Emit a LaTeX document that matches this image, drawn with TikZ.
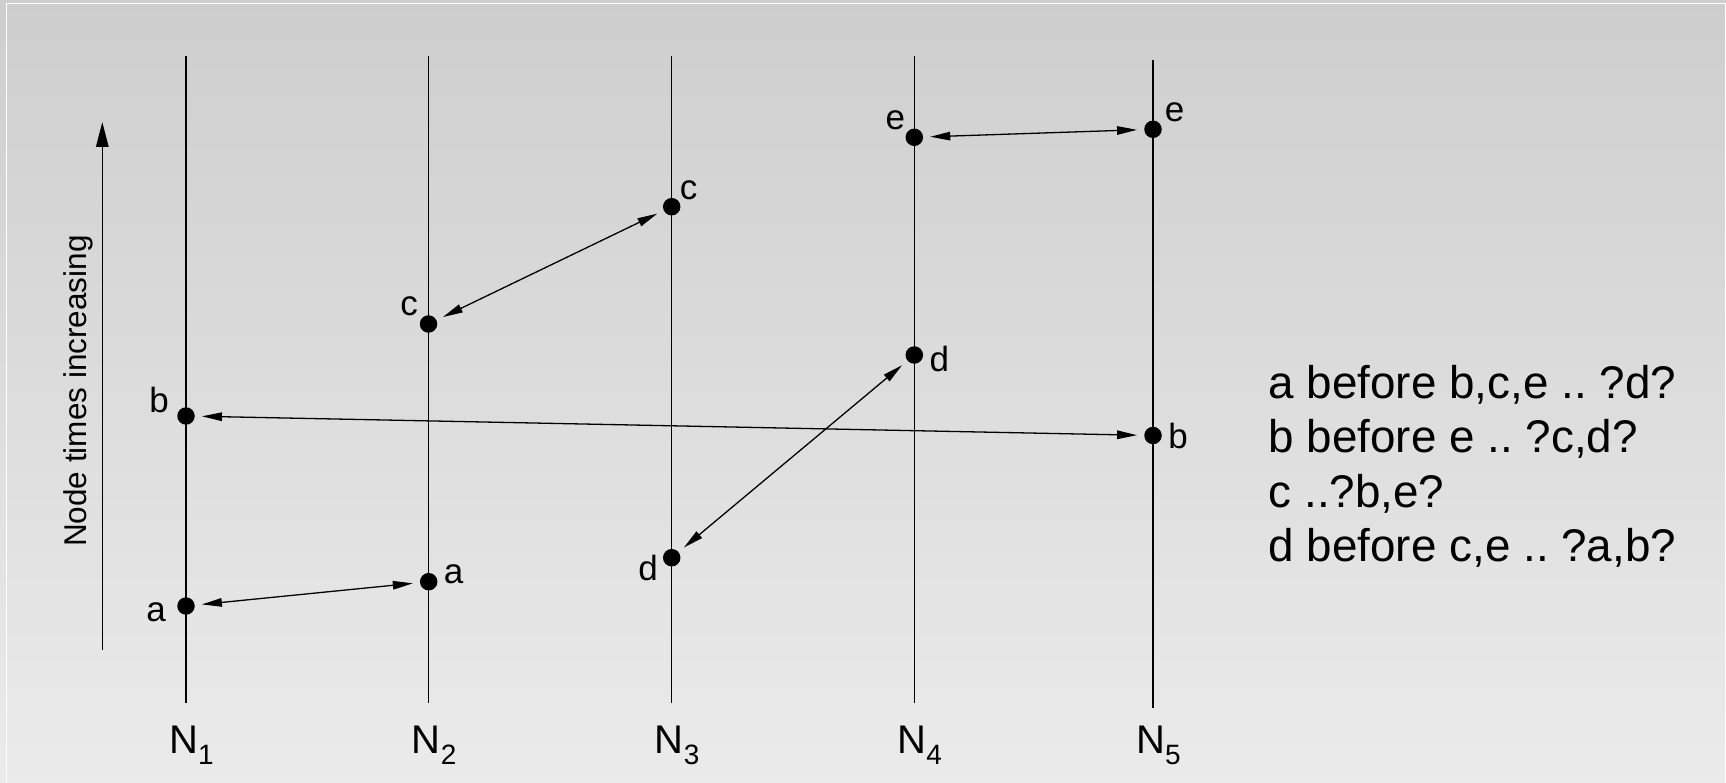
\documentclass[tikz,border=0pt]{standalone}
\usepackage{fontspec}
\setmainfont{Liberation Sans}
\usetikzlibrary{arrows.meta,positioning}
\frenchspacing

\definecolor{bgtop}{RGB}{206,206,206}
\definecolor{bgbot}{RGB}{235,235,235}

\tikzset{
  event/.style={circle,fill=black,inner sep=0pt,minimum size=17.5pt},
  evlabel/.style={font=\fontsize{35}{40}\selectfont,inner sep=0pt},
  msg/.style={{Triangle[length=20pt,width=8.5pt]}-{Triangle[length=20pt,width=8.5pt]},
    line width=1.3pt,shorten <=7pt,shorten >=7pt},
  timeline/.style={line width=1.3pt},
}

\begin{document}
\begin{tikzpicture}[x=1pt,y=-1pt]
  \useasboundingbox (0,0) rectangle (1726,783);
  \shade[top color=bgtop,bottom color=bgbot] (0,0) rectangle (1726,783);
  \draw[white,line width=1.4pt] (6.5,783) -- (6.5,3.7) -- (1725.3,3.7) -- (1725.3,783);

  % time axis
  \coordinate (axbot) at (102.3,649.5);
  \coordinate (axtop) at (102.3,122);
  \draw[line width=1.5pt,-{Triangle[length=25pt,width=12.5pt]}] (axbot) -- (axtop);
  \node[rotate=90,font=\fontsize{31.5}{36}\selectfont] (axlabel) at (78,391) {Node times increasing};

  % node time lines
  \foreach \i/\x/\t/\b in {1/186/56/703,2/428.7/56/703,3/671.7/56/703,4/914.3/56/703,5/1153/60.5/707.7} {
    \coordinate (top\i) at (\x,\t);
    \coordinate (bot\i) at (\x,\b);
    \draw[timeline] (top\i) -- (bot\i);
    \node[anchor=base west,inner sep=0pt,font=\fontsize{40}{44}\selectfont] (N\i) at (\x-17,753)
      {N\raisebox{-11pt}{\fontsize{28}{30}\selectfont\i}};
  }

  % events
  \node[event] (a1) at (186,606) {};
  \node[event] (a2) at (428.7,581.7) {};
  \node[event] (b1) at (186,416) {};
  \node[event] (b5) at (1153,435.5) {};
  \node[event] (c2) at (428.5,324) {};
  \node[event] (c3) at (671.7,206.7) {};
  \node[event] (d3) at (671.7,557.7) {};
  \node[event] (d4) at (914.3,355) {};
  \node[event] (e4) at (914.3,137.3) {};
  \node[event] (e5) at (1153,129.3) {};

  \node[evlabel] (a1l) at ([shift={(-30,6.5)}]a1) {a};
  \node[evlabel] (a2l) at ([shift={(25,-7)}]a2) {a};
  \node[evlabel] (b1l) at ([shift={(-27,-16)}]b1) {b};
  \node[evlabel] (b5l) at ([shift={(25,0)}]b5) {b};
  \node[evlabel] (c2l) at ([shift={(-19.5,-17.5)}]c2) {c};
  \node[evlabel] (c3l) at ([shift={(17,-16)}]c3) {c};
  \node[evlabel] (d3l) at ([shift={(-23.5,10)}]d3) {d};
  \node[evlabel] (d4l) at ([shift={(25,4)}]d4) {d};
  \node[evlabel] (e4l) at ([shift={(-19,-17)}]e4) {e};
  \node[evlabel] (e5l) at ([shift={(21.5,-17)}]e5) {e};

  % messages
  \draw[msg] (a1) -- (a2);
  \draw[msg] (b1) -- (b5);
  \draw[msg] (c2) -- (c3);
  \draw[msg] (d3) -- (d4);
  \draw[msg] (e4) -- (e5);

  % orderings
  \foreach \t [count=\i] in {{a before b,c,e .. ?d?},{b before e .. ?c,d?},{c ..?b,e?},{d before c,e .. ?a,b?}}
    \node[anchor=base west,inner sep=0pt,font=\fontsize{45.8}{54}\selectfont] (rule\i)
      at (1268.5,{398.3+54.5*(\i-1)}) {\t};
\end{tikzpicture}
\end{document}
